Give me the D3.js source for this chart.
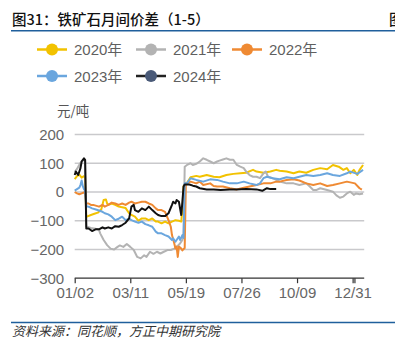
<!DOCTYPE html>
<html>
<head>
<meta charset="utf-8">
<script src="https://cdn.jsdelivr.net/npm/d3@7"></script>
<style>
  html, body { margin: 0; padding: 0; background: #fff; }
  svg { display: block; }
</style>
</head>
<body>
<svg id="chart" width="395" height="348"></svg>
<script>
// ---------- data ----------
const seriesNames = ["2020年", "2021年", "2022年", "2023年", "2024年"];
const seriesColors = ["#f2c200", "#b3b3b3", "#ef8a33", "#6aa6de", "#111111"];
const legendDotColors = ["#f2c200", "#b3b3b3", "#ef8a33", "#6aa6de", "#4a5a78"];

const xTickDays = [0, 48, 96, 144, 192, 240];
const xTickLabels = ["01/02", "03/11", "05/19", "07/26", "10/09", "12/31"];
const yTickValues = [200, 100, 0, -100, -200, -300];

// [trading-day index, spread 元/吨]
const s2020 = [[0,45],[2,55],[4,60],[6,50],[8,55],[9,50],[10,-85],[11,-85],[14,-80],[17,-76],[20,-72],[23,-60],[25,-28],[27,-26],[28,-40],[29,-45],[32,-40],[35,-45],[38,-51],[41,-53],[44,-56],[47,-74],[49,-80],[52,-86],[55,-100],[58,-92],[61,-92],[64,-98],[67,-92],[70,-103],[72,-103],[75,-109],[78,-103],[81,-109],[84,-103],[87,-98],[90,-100],[92,-103],[93,-60],[94,20],[96,30],[97,32],[100,51],[105,56],[108,53],[114,59],[120,53],[125,51],[131,59],[137,63],[143,65],[148,67],[154,77],[157,71],[163,67],[169,71],[174,77],[177,74],[183,71],[189,65],[194,71],[200,67],[206,77],[212,83],[218,79],[223,94],[228,88],[232,77],[235,83],[238,65],[241,77],[244,59],[246,77],[249,94]];
const s2021 = [[0,70],[2,80],[4,95],[6,108],[8,112],[9,108],[10,-120],[14,-125],[18,-128],[21,-132],[22,-144],[25,-167],[28,-185],[31,-197],[34,-200],[37,-191],[39,-186],[42,-191],[45,-181],[48,-191],[51,-202],[54,-226],[57,-231],[60,-220],[62,-226],[65,-208],[68,-215],[71,-208],[74,-214],[77,-208],[80,-202],[83,-202],[86,-197],[88,-191],[91,-179],[93,-167],[94,-150],[95,88],[97,94],[100,100],[102,94],[105,98],[108,106],[111,117],[114,112],[117,106],[120,100],[123,106],[125,109],[128,113],[131,117],[134,112],[137,112],[140,94],[143,88],[146,83],[148,71],[151,59],[154,53],[157,53],[160,48],[163,65],[165,71],[167,53],[171,48],[174,42],[177,36],[183,30],[189,30],[194,24],[200,30],[203,19],[206,7],[209,7],[212,13],[218,7],[223,1],[226,-12],[229,-20],[232,-16],[235,-5],[238,1],[241,-10],[243,-5],[246,-8],[249,-5]];
const s2022 = [[0,0],[2,-5],[4,-8],[6,-5],[8,-2],[9,0],[10,-40],[12,-40],[14,-45],[16,-45],[21,-51],[24,-45],[26,-51],[29,-45],[32,-37],[35,-40],[38,-45],[41,-40],[44,-45],[47,-37],[49,-34],[52,-40],[55,-37],[58,-34],[61,-34],[64,-40],[67,-45],[70,-57],[72,-63],[75,-63],[78,-69],[81,-98],[83,-121],[84,-150],[86,-179],[87,-197],[88,-190],[89,-226],[90,-190],[92,-197],[93,-203],[95,-195],[96,30],[97,30],[100,36],[105,30],[108,36],[111,24],[117,30],[120,21],[123,19],[128,19],[134,13],[140,9],[146,15],[151,19],[157,24],[163,30],[169,30],[174,36],[177,36],[183,42],[189,44],[194,40],[200,30],[206,24],[212,30],[218,21],[223,24],[229,30],[235,36],[242,30],[246,13],[248,8]];
const s2023 = [[0,5],[2,10],[4,15],[5,25],[6,40],[7,20],[8,10],[9,5],[10,-50],[12,-51],[15,-57],[19,-62],[24,-69],[26,-74],[29,-78],[32,-86],[35,-98],[38,-93],[41,-86],[44,-98],[47,-93],[49,-98],[52,-103],[55,-107],[58,-103],[61,-112],[64,-116],[67,-121],[70,-138],[72,-144],[75,-144],[78,-150],[81,-155],[84,-167],[85,-161],[87,-173],[90,-155],[91,-167],[93,-150],[94,-160],[95,30],[97,30],[100,48],[105,42],[111,36],[117,44],[123,42],[128,36],[134,30],[140,30],[146,36],[151,30],[157,24],[160,30],[163,48],[166,53],[171,48],[177,44],[183,51],[189,48],[194,53],[200,59],[206,56],[212,59],[218,65],[223,59],[229,56],[235,65],[238,71],[244,63],[249,77]];
const s2024 = [[0,59],[1,71],[3,59],[5,83],[6,106],[8,117],[9,112],[10,-127],[12,-127],[15,-136],[18,-130],[21,-130],[24,-123],[26,-127],[29,-123],[32,-127],[35,-119],[38,-121],[41,-115],[44,-107],[47,-92],[49,-51],[51,-45],[52,-63],[55,-69],[58,-57],[61,-63],[64,-51],[67,-63],[70,-74],[72,-80],[75,-84],[78,-84],[81,-74],[84,-45],[85,-34],[87,-40],[88,-28],[90,-34],[92,-80],[93,-34],[94,19],[95,26],[99,26],[102,22],[105,19],[108,13],[114,9],[120,9],[126,7],[134,9],[140,9],[148,10],[157,9],[162,4],[166,13],[169,10],[174,10]];
const seriesData = [s2020, s2021, s2022, s2023, s2024];

// ---------- layout ----------
const svg = d3.select("#chart");
const x = d3.scaleLinear().domain([0, 250]).range([74.7, 364.2]);
const y = d3.scaleLinear().domain([-300, 200]).range([278.2, 134.5]);

// title
svg.append("text").attr("x", 12).attr("y", 25)
  .attr("font-family", "'Noto Sans CJK SC', sans-serif").attr("font-size", 14.5)
  .attr("font-weight", 500).attr("fill", "#111")
  .text("图31：铁矿石月间价差（1-5）");
svg.append("text").attr("x", 389).attr("y", 25)
  .attr("font-family", "'Noto Sans CJK SC', sans-serif").attr("font-size", 14.5)
  .attr("font-weight", 500).attr("fill", "#111").text("图");
svg.append("line").attr("x1", 11).attr("x2", 395).attr("y1", 30.7).attr("y2", 30.7)
  .attr("stroke", "#1f5f9c").attr("stroke-width", 1.6);

// legend
const legendPos = [[37, 49.5], [136, 49.5], [232, 49.5], [37, 76], [136, 76]];
seriesNames.forEach((name, i) => {
  const [lx, ly] = legendPos[i];
  const g = svg.append("g");
  g.append("line").attr("x1", lx).attr("x2", lx + 30).attr("y1", ly).attr("y2", ly)
    .attr("stroke", i === 4 ? "#222" : seriesColors[i]).attr("stroke-width", 2.5);
  g.append("circle").attr("cx", lx + 15).attr("cy", ly).attr("r", 6)
    .attr("fill", legendDotColors[i]);
  g.append("text").attr("x", lx + 37).attr("y", ly + 5.5)
    .attr("font-family", "'Liberation Sans', 'Noto Sans CJK SC', sans-serif")
    .attr("font-size", 15).attr("fill", "#5f5f5f").text(name);
});

// unit
svg.append("text").attr("x", 57).attr("y", 115.5)
  .attr("font-family", "'Noto Sans CJK SC', sans-serif").attr("font-size", 13.5)
  .attr("fill", "#555").text("元/吨");

// gridlines
svg.append("g").selectAll("line").data(yTickValues.filter(v => v > -300)).join("line")
  .attr("x1", x(0)).attr("x2", x(250))
  .attr("y1", d => y(d)).attr("y2", d => y(d))
  .attr("stroke", "#c9c9cc").attr("stroke-width", 1.5);

// y axis labels
const yAxis = d3.axisLeft(y).tickValues(yTickValues).tickSize(0).tickPadding(10)
  .tickFormat(d3.format("d"));
svg.append("g").attr("transform", `translate(${x(0) - 0.5},0)`).call(yAxis)
  .call(g => g.select(".domain").remove())
  .call(g => g.selectAll("text").attr("font-family", "'Liberation Sans', sans-serif")
    .attr("font-size", 15).attr("fill", "#666"));

// x axis
const xAxis = d3.axisBottom(x).tickValues(xTickDays).tickSize(5).tickPadding(4)
  .tickFormat((d, i) => xTickLabels[i]);
svg.append("g").attr("transform", `translate(0,${y(-300)})`).call(xAxis)
  .call(g => g.select(".domain").attr("d", `M${x(0)},0H${x(250)}`).attr("stroke", "#333").attr("stroke-width", 1.2))
  .call(g => g.selectAll(".tick line").attr("stroke", "#333").attr("stroke-width", 1.2))
  .call(g => g.selectAll("text").attr("font-family", "'Liberation Sans', sans-serif")
    .attr("font-size", 15).attr("fill", "#666"));
svg.append("line").attr("x1", x(242)).attr("x2", x(242)).attr("y1", y(-300)).attr("y2", y(-300) + 5)
  .attr("stroke", "#333").attr("stroke-width", 1.2);

// series lines
const line = d3.line().x(d => x(d[0])).y(d => y(d[1]));
seriesData.forEach((data, i) => {
  svg.append("path").datum(data).attr("d", line)
    .attr("fill", "none").attr("stroke", seriesColors[i])
    .attr("stroke-width", 2).attr("stroke-linejoin", "round");
});

// footer
svg.append("line").attr("x1", 11).attr("x2", 395).attr("y1", 322.5).attr("y2", 322.5)
  .attr("stroke", "#1f5f9c").attr("stroke-width", 1.6);
svg.append("text").attr("x", 12).attr("y", 336)
  .attr("font-family", "'Noto Sans CJK SC', sans-serif").attr("font-size", 13)
  .attr("font-style", "italic").attr("fill", "#333")
  .attr("transform", "translate(0,0)")
  .text("资料来源：同花顺，方正中期研究院");
</script>
</body>
</html>
